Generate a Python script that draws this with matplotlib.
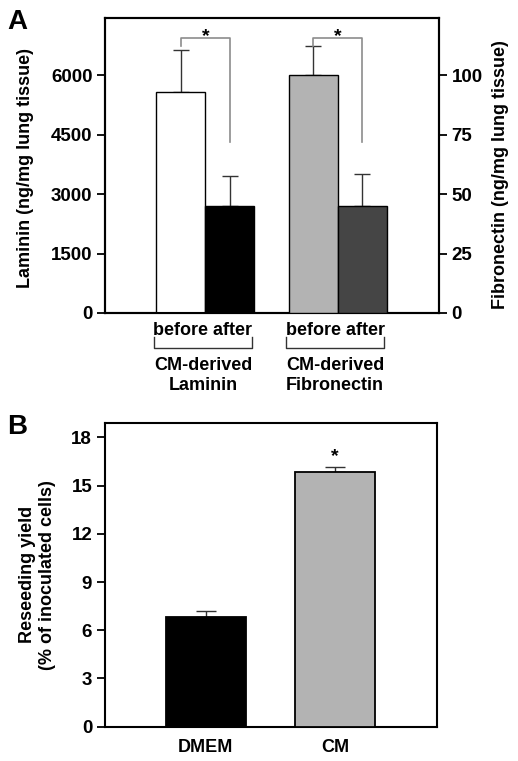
import matplotlib
matplotlib.use('Agg')
import matplotlib.pyplot as plt
import matplotlib.transforms as mtransforms

plt.rcParams['font.family'] = ['Liberation Sans', 'DejaVu Sans']
plt.rcParams['font.weight'] = 'bold'
plt.rcParams['font.size'] = 13

# panel A data
lam_vals = [5580, 2700]
lam_err = [1060, 770]
fib_vals = [100, 45]
fib_err = [12.5, 13.6]
pair_labels = ['before after', 'before after']
group_labels = ['CM-derived\nLaminin', 'CM-derived\nFibronectin']
lam_ticks = [0, 1500, 3000, 4500, 6000]
fib_ticks = [0, 25, 50, 75, 100]

# panel B data
b_cats = ['DMEM', 'CM']
b_vals = [6.83, 15.82]
b_err = [0.37, 0.35]
b_ticks = [0, 3, 6, 9, 12, 15, 18]

fig = plt.figure(figsize=(5.18, 7.61), dpi=100)

# ---------- panel A ----------
ax = fig.add_axes([0.2027, 0.5887, 0.6448, 0.3876])
ax2 = ax.twinx()
w = 1.0
lam_x = [0, 1]
fib_x = [2.7, 3.7]
ekw = dict(ecolor='#333333', elinewidth=1, capthick=1)
ax.bar(lam_x, lam_vals, width=w, color=['white', 'black'], edgecolor='black', linewidth=1, zorder=3)
ax.errorbar(lam_x, lam_vals, yerr=[[0, 0], lam_err], fmt='none', zorder=2, capsize=5.5, **ekw)
ax2.bar(fib_x, fib_vals, width=w, color=['#b3b3b3', '#454545'], edgecolor='black', linewidth=1, zorder=3)
ax2.errorbar(fib_x, fib_vals, yerr=[[0, 0], fib_err], fmt='none', zorder=2, capsize=5.5, **ekw)

ax.set_xlim(-1.55, 5.27)
ax.set_ylim(0, 7450)
ax2.set_ylim(0, 7450 / 60)
ax.set_yticks(lam_ticks)
ax2.set_yticks(fib_ticks)
ax.set_xticks([])
ax.tick_params(axis='y', direction='out', length=5.5, width=1.3, pad=3.5, labelsize=13.5)
ax2.tick_params(axis='y', direction='out', length=5.5, width=1.3, pad=3.5, labelsize=13.5)
for a in (ax, ax2):
    for s in a.spines.values():
        s.set_linewidth(1.5)
ax.set_ylabel('Laminin (ng/mg lung tissue)', fontsize=13, fontweight='bold')
ax.yaxis.set_label_coords(-0.213, 0.49)
ax2.set_ylabel('Fibronectin (ng/mg lung tissue)', fontsize=13, fontweight='bold')
ax2.yaxis.set_label_coords(1.16, 0.47)

# significance brackets
gc = '#8c8c8c'
ax.plot([lam_x[0], lam_x[0], lam_x[1], lam_x[1]], [6740, 6937, 6937, 4326], color=gc, lw=1.2, zorder=4)
ax.text(0.5, 6869, '*', ha='center', va='baseline', fontsize=14)
ax2.plot([fib_x[0], fib_x[0], fib_x[1], fib_x[1]], [112.5, 115.6, 115.6, 72.1], color=gc, lw=1.2, zorder=4)
ax2.text(3.2, 114.5, '*', ha='center', va='baseline', fontsize=14)

# labels below axis
trans = mtransforms.blended_transform_factory(ax.transData, ax.transAxes)
for xs, pl, gl in [(lam_x, pair_labels[0], group_labels[0]), (fib_x, pair_labels[1], group_labels[1])]:
    mid = (xs[0] + xs[1]) / 2
    ax.text(mid - 0.05, -0.03, pl, transform=trans, ha='center', va='top', fontsize=13)
    x0, x1 = xs[0] - 0.55, xs[1] + 0.45
    ax.plot([x0, x0, x1, x1], [-0.081, -0.119, -0.119, -0.081], transform=trans,
            color='#333333', lw=1, clip_on=False)
    ax.text(mid - 0.05, -0.148, gl, transform=trans, ha='center', va='top', fontsize=13, linespacing=1.25)

fig.text(0.014, 0.988, 'A', fontsize=20, fontweight='bold', va='top', ha='left')

# ---------- panel B ----------
bx = fig.add_axes([0.2021, 0.0451, 0.642, 0.3995])
b_x = [1, 2]
bx.bar(b_x, b_vals, width=0.62, color=['black', '#b3b3b3'], edgecolor='black', linewidth=1.3, zorder=3)
bx.errorbar(b_x, b_vals, yerr=[[0, 0], b_err], fmt='none', zorder=2, capsize=7, **ekw)
bx.text(2, 16.5, '*', ha='center', va='baseline', fontsize=14)
bx.set_xlim(0.217, 2.79)
bx.set_ylim(0, 18.92)
bx.set_yticks(b_ticks)
bx.set_xticks(b_x)
bx.set_xticklabels(b_cats, fontsize=13, fontweight='bold')
bx.tick_params(axis='x', length=0, pad=9)
bx.tick_params(axis='y', direction='out', length=5.5, width=1.3, pad=3.5, labelsize=13.5)
for s in bx.spines.values():
    s.set_linewidth(1.5)
bx.set_ylabel('Reseeding yield\n(% of inoculated cells)', fontsize=13, fontweight='bold', linespacing=1.3)
bx.yaxis.set_label_coords(-0.145, 0.5)

fig.text(0.014, 0.456, 'B', fontsize=20, fontweight='bold', va='top', ha='left')

fig.savefig('out.png', dpi=100)
